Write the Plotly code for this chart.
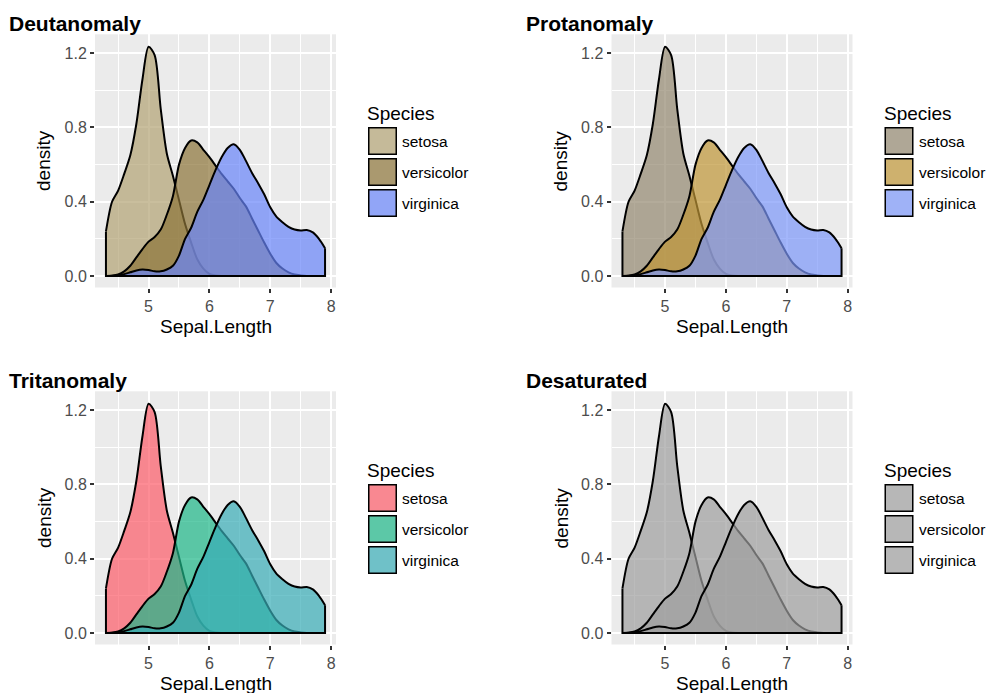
import plotly.graph_objects as go

# ---------------- data ----------------
sepal_length = [4.3, 4.4, 4.5, 4.6, 4.7, 4.8, 4.9, 5.0, 5.1, 5.2, 5.3, 5.4, 5.5,
                5.6, 5.7, 5.8, 5.9, 6.0, 6.1, 6.2, 6.3, 6.4, 6.5, 6.6, 6.7, 6.8,
                6.9, 7.0, 7.1, 7.2, 7.3, 7.4, 7.5, 7.6, 7.7, 7.8, 7.9]

setosa = [0.24, 0.40, 0.46, 0.55, 0.65, 0.82, 1.06, 1.235, 1.19, 0.90, 0.66, 0.54,
          0.41, 0.28, 0.18, 0.09, 0.04, 0.012, 0.003, 0, 0, 0, 0, 0, 0, 0, 0, 0,
          0, 0, 0, 0, 0, 0, 0, 0, 0]

versicolor = [0.0, 0.002, 0.008, 0.025, 0.055, 0.10, 0.145, 0.185, 0.21, 0.25,
              0.33, 0.43, 0.60, 0.69, 0.73, 0.72, 0.68, 0.64, 0.595, 0.55, 0.51,
              0.47, 0.42, 0.375, 0.31, 0.245, 0.18, 0.12, 0.07, 0.04, 0.02,
              0.008, 0.003, 0, 0, 0, 0]

virginica = [0.0, 0.001, 0.004, 0.01, 0.02, 0.03, 0.035, 0.032, 0.025, 0.025,
             0.035, 0.055, 0.11, 0.20, 0.26, 0.345, 0.41, 0.49, 0.57, 0.64, 0.69,
             0.71, 0.68, 0.62, 0.555, 0.50, 0.44, 0.37, 0.32, 0.29, 0.265, 0.25,
             0.245, 0.248, 0.235, 0.20, 0.15]

species = ["setosa", "versicolor", "virginica"]
series = [setosa, versicolor, virginica]

panel_titles = ["Deutanomaly", "Protanomaly", "Tritanomaly", "Desaturated"]

x_ticks = [5, 6, 7, 8]
y_ticks = [0.0, 0.4, 0.8, 1.2]

# ---------------- styles ----------------
ALPHA = 0.7
panel_colors = [
    [(178, 162, 116), (139, 115, 56), (104, 132, 249)],   # Deutanomaly
    [(147, 135, 111), (191, 149, 54), (124, 151, 249)],   # Protanomaly
    [(252, 91, 104), (29, 182, 136), (56, 172, 182)],     # Tritanomaly
    [(158, 158, 158), (158, 158, 158), (158, 158, 158)],  # Desaturated
]

W, H = 987, 693
FONT = "Liberation Sans, Arial, Helvetica, sans-serif"


def rgba(c, a=ALPHA):
    return f"rgba({c[0]},{c[1]},{c[2]},{a})"


def px(x):
    return x / W


def py(y):
    return 1 - y / H


# panel geometry (pixels)
dx = [0, 516.5, 0, 516.5]
dy = [0, 0, 357, 357]
x_dom_px = (95, 336)
y_dom_px_top = (34.3, 287.5)

fig = go.Figure()
layout = dict(
    width=W, height=H,
    margin=dict(l=0, r=0, t=0, b=0),
    paper_bgcolor="white",
    plot_bgcolor="#EBEBEB",
    showlegend=False,
    font=dict(family=FONT),
)
annotations = []
shapes = []

for p in range(4):
    ax = "" if p == 0 else str(p + 1)
    xa, ya = "x" + ax, "y" + ax
    for s, ys in enumerate(series):
        col = panel_colors[p][s]
        fig.add_trace(go.Scatter(
            x=sepal_length, y=ys, mode="lines", fill="tozeroy",
            fillcolor=rgba(col),
            line=dict(color="black", width=2, shape="spline", smoothing=0.8),
            xaxis=xa, yaxis=ya, hoverinfo="skip", name=species[s]))
        fig.add_trace(go.Scatter(
            x=[sepal_length[0], sepal_length[0], sepal_length[-1], sepal_length[-1]],
            y=[ys[0], 0, 0, ys[-1]], mode="lines",
            line=dict(color="black", width=2),
            xaxis=xa, yaxis=ya, hoverinfo="skip", showlegend=False))

    x0 = x_dom_px[0] + dx[p]
    x1 = x_dom_px[1] + dx[p]
    ytop = y_dom_px_top[0] + dy[p]
    ybot = y_dom_px_top[1] + dy[p]

    layout["xaxis" + ax] = dict(
        domain=[px(x0), px(x1)], range=[4.12, 8.08], anchor=ya,
        tickvals=x_ticks, ticktext=[str(v) for v in x_ticks],
        ticks="outside", ticklen=4, tickwidth=1.5, tickcolor="#333333",
        tickfont=dict(size=16, color="#4D4D4D", family=FONT),
        showgrid=True, gridcolor="white", gridwidth=1.6,
        minor=dict(dtick=0.5, tick0=4.5, showgrid=True, gridcolor="white",
                   gridwidth=0.8, ticks=""),
        zeroline=False, showline=False, fixedrange=True)
    layout["yaxis" + ax] = dict(
        domain=[py(ybot), py(ytop)], range=[-0.062, 1.302], anchor=xa,
        tickvals=y_ticks, ticktext=[f"{v:.1f}" for v in y_ticks],
        ticks="outside", ticklen=4, tickwidth=1.5, tickcolor="#333333",
        tickfont=dict(size=16, color="#4D4D4D", family=FONT),
        showgrid=True, gridcolor="white", gridwidth=1.6,
        minor=dict(dtick=0.2, tick0=0, showgrid=True, gridcolor="white",
                   gridwidth=0.8, ticks=""),
        zeroline=False, showline=False, fixedrange=True)

    annotations.append(dict(
        text="<b>" + panel_titles[p] + "</b>", xref="paper", yref="paper",
        x=px(7 + dx[p]), y=py(23 + dy[p]), xanchor="left", yanchor="middle",
        showarrow=False, font=dict(size=21, color="black", family=FONT)))
    annotations.append(dict(
        text="density", xref="paper", yref="paper", textangle=-90,
        x=px(44 + dx[p]), y=py(161 + dy[p]), xanchor="center", yanchor="middle",
        showarrow=False, font=dict(size=19, color="black", family=FONT)))
    annotations.append(dict(
        text="Sepal.Length", xref="paper", yref="paper",
        x=px(215.5 + dx[p]), y=py(326 + dy[p]), xanchor="center", yanchor="middle",
        showarrow=False, font=dict(size=19, color="black", family=FONT)))

    lx = 368 + dx[p]
    annotations.append(dict(
        text="Species", xref="paper", yref="paper",
        x=px(lx - 3), y=py(113 + dy[p]), xanchor="left", yanchor="middle",
        showarrow=False, font=dict(size=19, color="black", family=FONT)))
    for s in range(3):
        top = 127 + dy[p] + 31 * s
        shapes.append(dict(type="rect", xref="paper", yref="paper",
                           x0=px(lx), x1=px(lx + 29), y0=py(top + 28), y1=py(top),
                           fillcolor="#F2F2F2", line=dict(width=0), layer="above"))
        shapes.append(dict(type="rect", xref="paper", yref="paper",
                           x0=px(lx + 0.75), x1=px(lx + 28.25),
                           y0=py(top + 27.25), y1=py(top + 0.75),
                           fillcolor=rgba(panel_colors[p][s]),
                           line=dict(color="black", width=1.5), layer="above"))
        annotations.append(dict(
            text=species[s], xref="paper", yref="paper",
            x=px(lx + 32), y=py(top + 14), xanchor="left", yanchor="middle",
            showarrow=False, font=dict(size=15.5, color="black", family=FONT)))

layout["annotations"] = annotations
layout["shapes"] = shapes
fig.update_layout(**layout)

fig.write_html("out.html", config={"displayModeBar": False},
               post_script="document.body.style.margin='0';document.body.style.padding='0';")
